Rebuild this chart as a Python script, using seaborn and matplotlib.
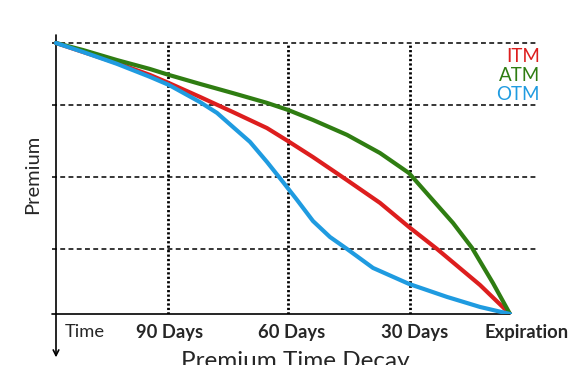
import numpy as np
import pandas as pd
import matplotlib
matplotlib.use("Agg")
import matplotlib.pyplot as plt
import seaborn as sns

# ---- data (x: time axis units, y: premium %) ----
itm_x = [0, 0.27, 0.61, 0.94, 1.13, 1.44, 1.77, 2.11, 2.32, 2.57, 2.91, 3.24, 3.53, 3.81, 4.24, 4.54]
itm_y = [100, 96.7, 92.6, 88.2, 85.2, 80.1, 74.5, 68.6, 63.8, 57.9, 49.4, 41.0, 32.1, 24.0, 10.7, 0]

atm_x = [0, 0.27, 0.61, 0.94, 1.13, 1.44, 1.77, 2.11, 2.32, 2.57, 2.91, 3.24, 3.53, 3.74, 3.97, 4.16, 4.37, 4.54]
atm_y = [100, 97.4, 93.7, 90.4, 88.2, 84.9, 81.5, 77.9, 75.3, 71.6, 66.1, 59.4, 52.0, 43.2, 33.6, 24.4, 11.4, 0]

otm_x = [0, 0.27, 0.61, 0.94, 1.13, 1.44, 1.61, 1.77, 1.94, 2.11, 2.27, 2.41, 2.57, 2.74, 2.91, 3.17, 3.53, 3.91, 4.24, 4.54]
otm_y = [100, 96.7, 92.3, 87.5, 84.5, 78.2, 74.2, 69.0, 63.5, 56.1, 48.7, 42.1, 34.3, 28.4, 24.0, 17.0, 11.1, 6.3, 2.6, 0]

series_names = ["ITM", "ATM", "OTM"]
series_colors = ["#dd1e1e", "#2f7d12", "#1f9be0"]

grid_levels = [100, 77.1, 50.6, 24.0]
day_marks = [1.12, 2.32, 3.54]
expiry = 4.54
tick_labels = ["Time", "90 Days", "60 Days", "30 Days", "Expiration"]
tick_label_pos = [0.29, 1.14, 2.36, 3.59, 4.71]

# ---- build long table ----
frames = []
for name, xs, ys in zip(series_names, [itm_x, atm_x, otm_x], [itm_y, atm_y, otm_y]):
    frames.append(pd.DataFrame({"time": xs, "premium": ys, "option": name}))
df = pd.concat(frames, ignore_index=True)

sns.set_style("white")
plt.rcParams["font.family"] = ["Lato", "DejaVu Sans"]

W, H = 586, 365
fig = plt.figure(figsize=(W / 100, H / 100), dpi=100)
ax = fig.add_axes([52 / W, (H - 314) / H, 486 / W, 279 / H])

ax.set_xlim(-0.04, 4.82)
ax.set_ylim(0, 102.95)

# grid lines
ax.hlines(grid_levels, -0.04, 4.82, colors="black", linewidth=1.1,
          linestyles=(0, (3.2, 2.2)), zorder=1)
ax.vlines(day_marks, 0, 100, colors="black", linewidth=2.0,
          linestyles=(0, (0.8, 0.8)), zorder=1)

sns.lineplot(data=df, x="time", y="premium", hue="option", hue_order=series_names,
             palette=series_colors, linewidth=3.0, sort=False, estimator=None,
             ax=ax, zorder=3, legend=True)
for ln in ax.lines:
    ln.set_solid_capstyle("round")
    ln.set_solid_joinstyle("round")

# axis lines
ax.plot([-0.04, expiry], [0, 0], color="black", linewidth=1.2, clip_on=False, zorder=2)
ax.annotate("", xy=(0, -16.0), xytext=(0, 102.95), xycoords="data",
            arrowprops=dict(arrowstyle="->", lw=1.2, color="black",
                            shrinkA=0, shrinkB=0, mutation_scale=10),
            annotation_clip=False, zorder=2)

for s in ax.spines.values():
    s.set_visible(False)

ax.set_yticks([])
ax.set_ylabel("Premium", fontsize=14.5, labelpad=8)

ax.set_xticks(tick_label_pos)
ax.set_xticklabels(tick_labels, fontsize=13.2, fontweight="bold")
ax.get_xticklabels()[0].set_fontweight("normal")
ax.tick_params(axis="x", length=0, pad=7.5)
ax.set_xlabel("Premium Time Decay", fontsize=17.5, labelpad=7)

# legend as coloured text, right aligned
leg = ax.legend(handlelength=0, handletextpad=0, markerfirst=False, frameon=False,
                labelcolor="linecolor", fontsize=13.5, labelspacing=0.12,
                loc="upper right", bbox_to_anchor=(540 / W, (H - 48) / H),
                bbox_transform=fig.transFigure, borderpad=0, borderaxespad=0)
for h in leg.legend_handles:
    h.set_visible(False)

fig.savefig("out.png", dpi=100)
